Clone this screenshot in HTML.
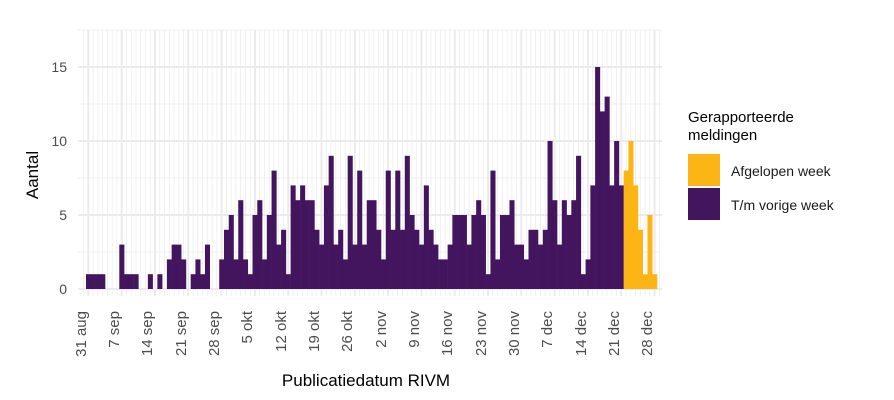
<!DOCTYPE html>
<html><head><meta charset="utf-8"><style>
body{margin:0;background:#fff;}
svg{display:block;font-family:"Liberation Sans",Arial,sans-serif;}
.tk{font-size:14px;fill:#4d4d4d;}
.xt{font-size:15px;fill:#4d4d4d;}
</style></head><body>
<svg id="s" width="894" height="400" xmlns="http://www.w3.org/2000/svg">
<g id="grid"></g>
<g id="bars"></g>
<g class="tk" text-anchor="end">
<text x="67" y="294">0</text><text x="67" y="220">5</text><text x="67" y="146">10</text><text x="67" y="72">15</text>
</g>
<text x="38" y="175" font-size="17" fill="#000" text-anchor="middle" transform="rotate(-90 38 175)">Aantal</text>
<g class="xt" text-anchor="end">
<text transform="translate(86,311) rotate(-90)">31 aug</text>
<text transform="translate(119,311) rotate(-90)">7 sep</text>
<text transform="translate(152,311) rotate(-90)">14 sep</text>
<text transform="translate(186,311) rotate(-90)">21 sep</text>
<text transform="translate(219,311) rotate(-90)">28 sep</text>
<text transform="translate(252,311) rotate(-90)">5 okt</text>
<text transform="translate(286,311) rotate(-90)">12 okt</text>
<text transform="translate(319,311) rotate(-90)">19 okt</text>
<text transform="translate(352,311) rotate(-90)">26 okt</text>
<text transform="translate(386,311) rotate(-90)">2 nov</text>
<text transform="translate(419,311) rotate(-90)">9 nov</text>
<text transform="translate(452,311) rotate(-90)">16 nov</text>
<text transform="translate(486,311) rotate(-90)">23 nov</text>
<text transform="translate(519,311) rotate(-90)">30 nov</text>
<text transform="translate(552,311) rotate(-90)">7 dec</text>
<text transform="translate(586,311) rotate(-90)">14 dec</text>
<text transform="translate(619,311) rotate(-90)">21 dec</text>
<text transform="translate(652,311) rotate(-90)">28 dec</text>
</g>
<text x="366" y="386" font-size="17" text-anchor="middle">Publicatiedatum RIVM</text>
<text x="688" y="122" font-size="15">Gerapporteerde</text>
<text x="688" y="140" font-size="15">meldingen</text>
<rect x="688" y="154" width="32" height="32" fill="#FDB515"/>
<rect x="688" y="188" width="32" height="32" fill="#43155E"/>
<text x="731" y="176" font-size="14" fill="#1a1a1a">Afgelopen week</text>
<text x="731" y="210" font-size="14" fill="#1a1a1a">T/m vorige week</text>
</svg>
<script>
var ns="http://www.w3.org/2000/svg";
var p=[1,1,1,1,0,0,0,3,1,1,1,0,0,1,0,1,0,2,3,3,2,0,1,2,1,3,0,0,2,4,5,2,6,2,1,5,6,2,
5,8,3,4,1,7,6,7,6,6,4,3,7,9,3,4,2,9,3,8,3,6,6,4,2,8,4,8,4,9,5,4,3,7,4,3,2,2,3,5,5,
5,
3,5,6,5,1,8,2,5,5,6,3,3,2,4,4,3,4,10,6,3,6,5,6,9,1,2,7,15,12,13,7,10,7];
var y=[8,10,7,4,1,5,1];
var x0=86,w=4.758,b=289,u=14.8;
var g=document.getElementById('grid'),bs=document.getElementById('bars');
function r(p,a){var e=document.createElementNS(ns,'rect');for(var k in a)e.setAttribute(k,a[k]);p.appendChild(e);}
function l(x1,y1,x2,y2,sw){var e=document.createElementNS(ns,'line');e.setAttribute('x1',x1);e.setAttribute('y1',y1);e.setAttribute('x2',x2);e.setAttribute('y2',y2);e.setAttribute('stroke','#ebebeb');e.setAttribute('stroke-width',sw);g.appendChild(e);}
for(var d=-1;d<=120;d++){var cx=x0+w*(d+0.5);if(cx<78||cx>662)continue;l(cx,30,cx,296,d%7==0?2:0.7);}
for(var v=0;v<=17.5;v+=2.5){var yy=b-v*u;l(78,yy,662,yy,v%5==0?2:0.7);}
var all=p.concat(y);
for(var i=0;i<all.length;i++){if(!all[i])continue;r(bs,{x:x0+w*i,y:b-all[i]*u,width:w+0.3,height:all[i]*u,fill:i>=p.length?'#FDB515':'#43155E'});}
</script>
</body></html>
